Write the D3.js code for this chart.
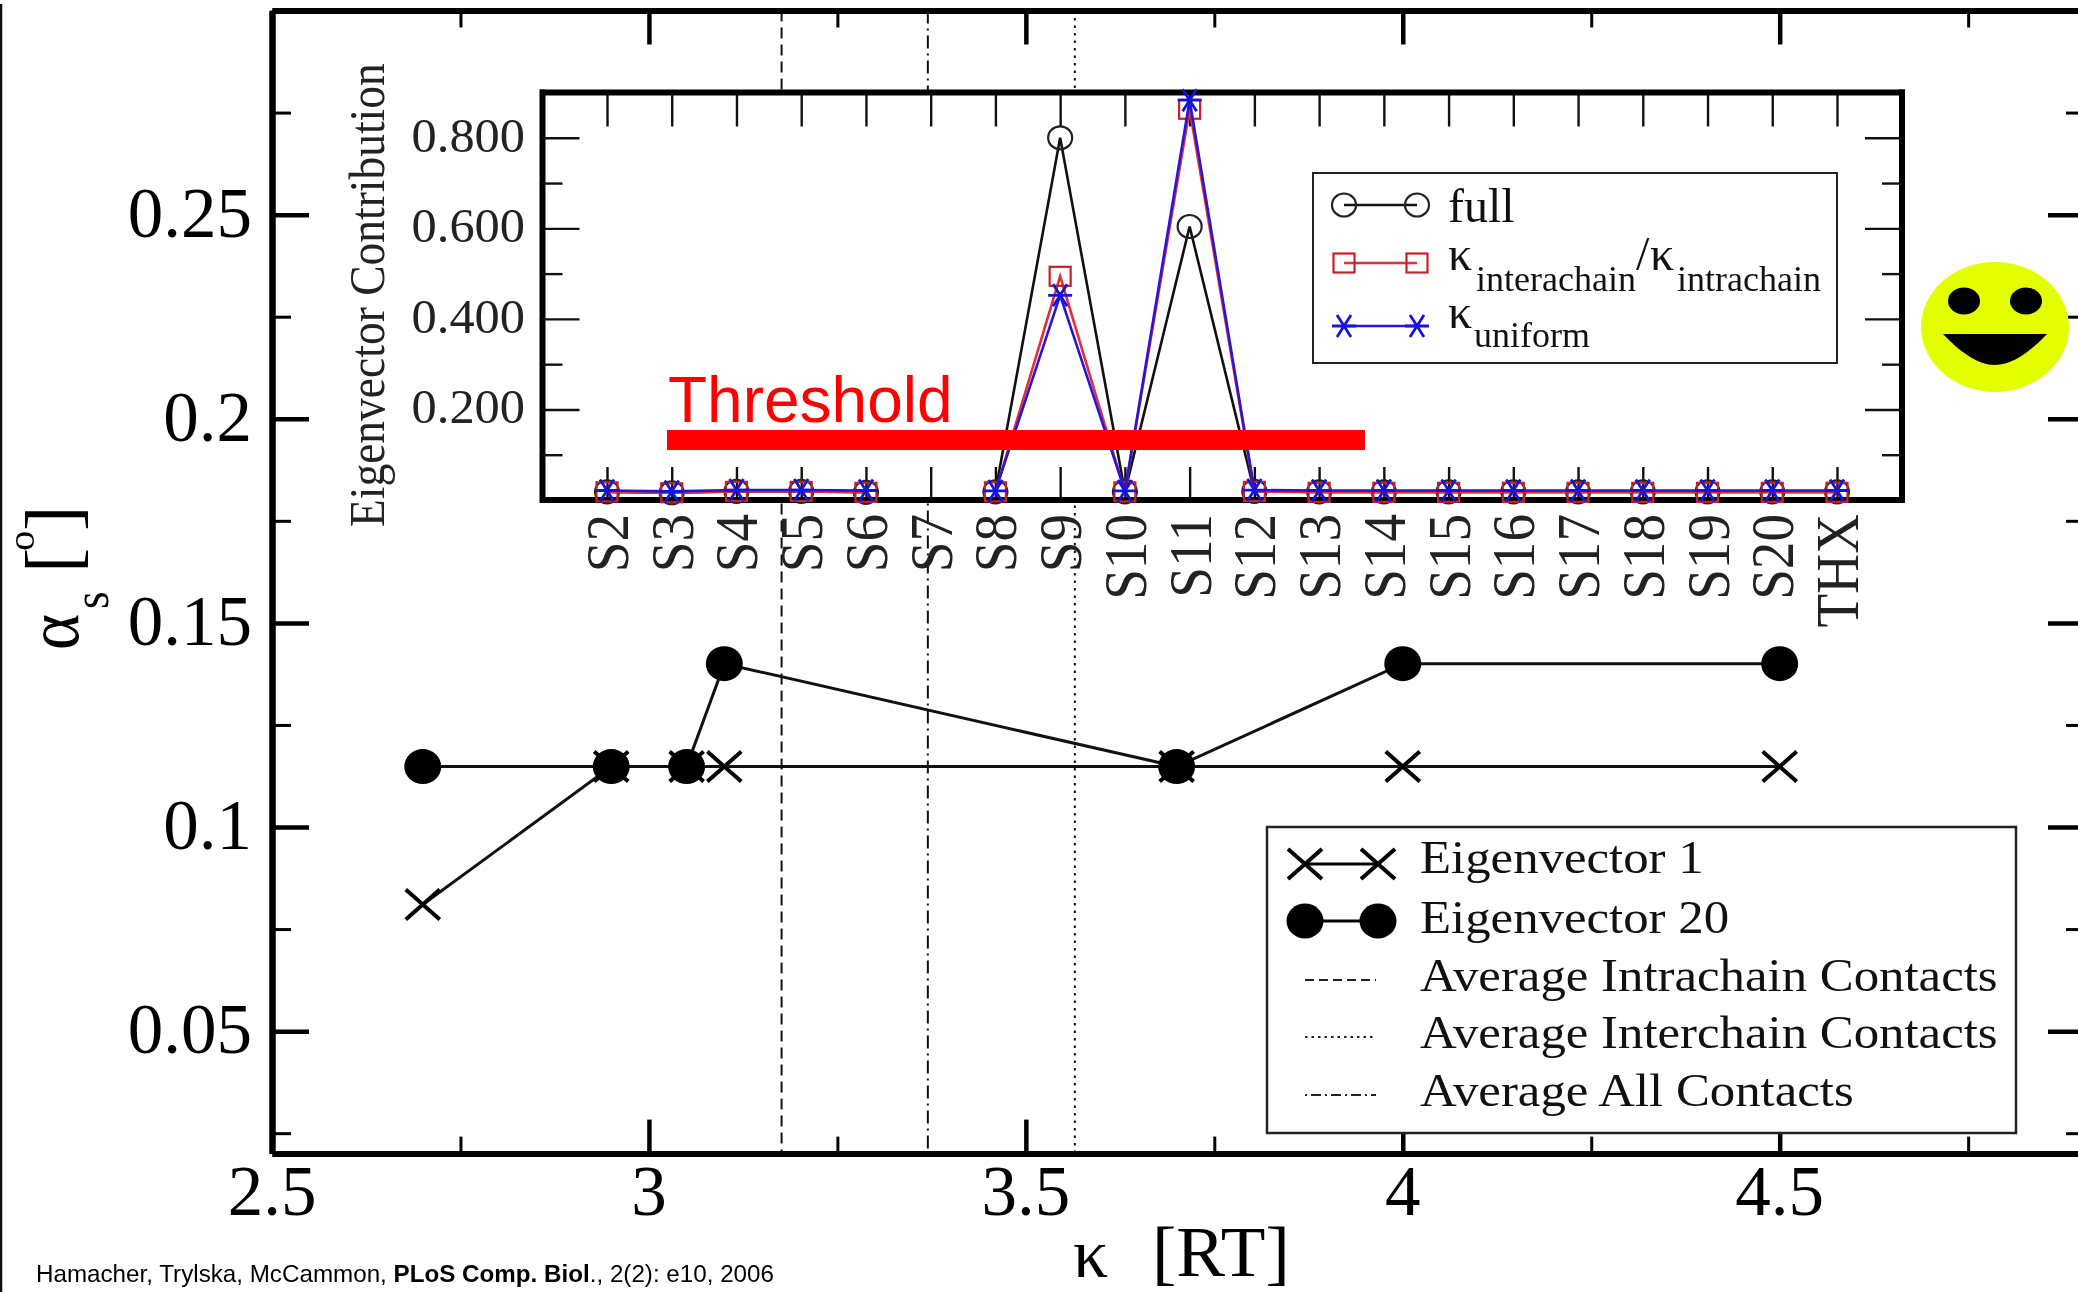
<!DOCTYPE html>
<html>
<head>
<meta charset="utf-8">
<script src="https://cdn.jsdelivr.net/npm/d3@7"></script>
<style>
  body { margin: 0; background: #fff; overflow: hidden; }
  svg { display: block; filter: blur(0.5px); }
  text { font-family: "Liberation Serif", serif; fill: #000; }
</style>
</head>
<body>
<div id="chart"></div>
<script>
// main plot
const kappa = [2.7, 2.95, 3.05, 3.1, 3.7, 4, 4.5];
const eigen1 = [0.081, 0.1148, 0.1148, 0.1148, 0.1148, 0.1148, 0.1148];
const eigen20 = [0.1148, 0.1148, 0.1148, 0.14, 0.1148, 0.14, 0.14];
const avgIntra = 3.176;
const avgAll = 3.37;
const avgInter = 3.565;
const xMajor = [2.5, 3, 3.5, 4, 4.5];
const xMinor = [2.75, 3.25, 3.75, 4.25, 4.75];
const yMajor = [0.05, 0.1, 0.15, 0.2, 0.25];
const yMinor = [0.025, 0.075, 0.125, 0.175, 0.225, 0.275];

// inset plot
const sites = ["S2", "S3", "S4", "S5", "S6", "S7", "S8", "S9", "S10", "S11", "S12", "S13", "S14", "S15", "S16", "S17", "S18", "S19", "S20", "THX"];
const full = [0.018, 0.016, 0.019, 0.019, 0.017, null, 0.018, 0.8, 0.018, 0.604, 0.019, 0.018, 0.018, 0.018, 0.018, 0.018, 0.018, 0.018, 0.018, 0.018];
const ratio = [0.018, 0.016, 0.019, 0.019, 0.017, null, 0.018, 0.494, 0.018, 0.863, 0.019, 0.017, 0.017, 0.017, 0.017, 0.017, 0.017, 0.017, 0.017, 0.017];
const uniform = [0.021, 0.019, 0.022, 0.022, 0.021, null, 0.02, 0.452, 0.02, 0.883, 0.022, 0.021, 0.021, 0.021, 0.021, 0.021, 0.021, 0.021, 0.021, 0.021];
const insetMajor = [0.2, 0.4, 0.6, 0.8];
const insetMinor = [0.1, 0.3, 0.5, 0.7];

const width = 2078, height = 1292;
const svg = d3.select("#chart").append("svg").attr("width", width).attr("height", height);

// scales
const x = d3.scaleLinear().domain([2.5, 4.905]).range([272, 2085]);
const y = d3.scaleLinear().domain([0.02, 0.3]).range([1153.6, 10.5]);
const ix = d3.scalePoint().domain(sites).range([607, 1837]);
const iy = d3.scaleLinear().domain([0, 0.9]).range([500, 92.5]);

// stretched text, the scan is wider than plain Times
function label(g, str, px, py, size, opts) {
  opts = opts || {};
  const rot = opts.rotate ? " rotate(-90)" : "";
  const t = g.append("text")
    .attr("transform", `translate(${px},${py})${rot} scale(${opts.sx || 1},1)`)
    .attr("font-size", size)
    .attr("text-anchor", opts.anchor || "start")
    .style("fill", opts.fill || "#000")
    .text(str);
  return t;
}

// markers
function drawCross(g, cx, cy, w, h, sw, col) {
  g.append("path")
    .attr("d", `M${cx - w},${cy - h}L${cx + w},${cy + h}M${cx - w},${cy + h}L${cx + w},${cy - h}`)
    .attr("stroke", col).attr("stroke-width", sw).attr("fill", "none");
}
function drawDot(g, cx, cy) {
  g.append("ellipse").attr("cx", cx).attr("cy", cy).attr("rx", 18.5).attr("ry", 17.5).attr("fill", "#000");
}
function drawRing(g, cx, cy) {
  g.append("ellipse").attr("cx", cx).attr("cy", cy).attr("rx", 12).attr("ry", 11.5)
    .attr("fill", "none").attr("stroke", "#222").attr("stroke-width", 2.2);
}
function drawSquare(g, cx, cy) {
  g.append("rect").attr("x", cx - 10.5).attr("y", cy - 9.5).attr("width", 21).attr("height", 19)
    .attr("fill", "none").attr("stroke", "#c8202a").attr("stroke-width", 2.2);
}
function drawStar(g, cx, cy) {
  const col = "#1414e0";
  g.append("path").attr("d", `M${cx - 12},${cy}H${cx + 12}M${cx - 7},${cy - 11}L${cx + 7},${cy + 11}M${cx - 7},${cy + 11}L${cx + 7},${cy - 11}`)
    .attr("stroke", col).attr("stroke-width", 2.8).attr("fill", "none");
}

function styleAxis(g, sw) {
  g.selectAll(".domain").attr("stroke", "#000").attr("stroke-width", 6);
  g.selectAll(".tick line").attr("stroke", "#000").attr("stroke-width", sw);
  g.selectAll(".tick text").remove();
}

// far left edge line of the slide
svg.append("line").attr("x1", 1).attr("x2", 1).attr("y1", 4).attr("y2", height).attr("stroke", "#111").attr("stroke-width", 2.5);

// average contact lines, inset paints over them
const avgLines = [[avgIntra, "11,6"], [avgAll, "13,5,2,5"], [avgInter, "2.5,5"]];
avgLines.forEach(function (d) {
  svg.append("line").attr("x1", x(d[0])).attr("x2", x(d[0])).attr("y1", y.range()[1]).attr("y2", y.range()[0])
    .attr("stroke", "#111").attr("stroke-width", 2).attr("stroke-dasharray", d[1]);
});

// main axes
[[xMajor, 34, 4.5], [xMinor, 17, 3]].forEach(function (a) {
  const b = svg.append("g").attr("transform", `translate(0,${y.range()[0]})`)
    .call(d3.axisBottom(x).tickValues(a[0]).tickSize(-a[1]).tickSizeOuter(0));
  styleAxis(b, a[2]);
  const t = svg.append("g").attr("transform", `translate(0,${y.range()[1]})`)
    .call(d3.axisTop(x).tickValues(a[0]).tickSize(-a[1]).tickSizeOuter(0));
  styleAxis(t, a[2]);
});
[[yMajor, 37, 4.5], [yMinor, 19, 3]].forEach(function (a) {
  const l = svg.append("g").attr("transform", `translate(${x.range()[0]},0)`)
    .call(d3.axisLeft(y).tickValues(a[0]).tickSize(-a[1]).tickSizeOuter(0));
  styleAxis(l, a[2]);
  const r = svg.append("g").attr("transform", `translate(${x.range()[1]},0)`)
    .call(d3.axisRight(y).tickValues(a[0]).tickSize(-a[1]).tickSizeOuter(0));
  styleAxis(r, a[2]);
});

// main tick labels
xMajor.forEach(function (v) {
  label(svg, String(v), x(v), 1215, 71, { anchor: "middle" });
});
yMajor.forEach(function (v) {
  label(svg, String(v), 252, y(v) + 22, 71, { anchor: "end" });
});

// main titles
label(svg, "κ", 1073, 1276.5, 70);
label(svg, "[RT]", 1152, 1276, 71, { sx: 1.03 });
label(svg, "α", 78, 650, 74, { rotate: true, sx: 0.93 });
label(svg, "s", 108, 609, 50, { rotate: true, sx: 0.9 });
label(svg, "[", 78, 573, 76, { rotate: true });
label(svg, "o", 34, 551, 37, { rotate: true, sx: 1.1 });
label(svg, "]", 78, 531, 76, { rotate: true });

// main series
const mainLine = d3.line().x(function (d) { return x(d[0]); }).y(function (d) { return y(d[1]); });
const rows1 = d3.zip(kappa, eigen1);
const rows20 = d3.zip(kappa, eigen20);
svg.append("path").attr("d", mainLine(rows1)).attr("fill", "none").attr("stroke", "#111").attr("stroke-width", 3);
svg.append("path").attr("d", mainLine(rows20)).attr("fill", "none").attr("stroke", "#111").attr("stroke-width", 3);
rows1.forEach(function (d) { drawCross(svg, x(d[0]), y(d[1]), 17, 15, 4, "#000"); });
rows20.forEach(function (d) { drawDot(svg, x(d[0]), y(d[1])); });

// main legend
const leg = svg.append("g");
leg.append("rect").attr("x", 1267).attr("y", 827).attr("width", 749).attr("height", 306)
  .attr("fill", "#fff").attr("stroke", "#222").attr("stroke-width", 2.5);
leg.append("line").attr("x1", 1305).attr("x2", 1378).attr("y1", 864).attr("y2", 864).attr("stroke", "#000").attr("stroke-width", 3);
drawCross(leg, 1305, 864, 17, 15, 4, "#000");
drawCross(leg, 1378, 864, 17, 15, 4, "#000");
leg.append("line").attr("x1", 1305).attr("x2", 1378).attr("y1", 921).attr("y2", 921).attr("stroke", "#000").attr("stroke-width", 3);
drawDot(leg, 1305, 921);
drawDot(leg, 1378, 921);
[[980, "9,5"], [1037, "2.5,4"], [1095, "2,4,10,4"]].forEach(function (d) {
  leg.append("line").attr("x1", 1305).attr("x2", 1376).attr("y1", d[0]).attr("y2", d[0])
    .attr("stroke", "#222").attr("stroke-width", 2).attr("stroke-dasharray", d[1]);
});
[["Eigenvector 1", 873], ["Eigenvector 20", 933], ["Average Intrachain Contacts", 991], ["Average Interchain Contacts", 1048], ["Average All Contacts", 1106]].forEach(function (d) {
  label(leg, d[0], 1420, d[1], 46, { sx: 1.105, fill: "#111" });
});

// inset
const inset = svg.append("g");
inset.append("rect").attr("x", ix.range()[0] - 65).attr("y", iy.range()[1]).attr("width", 1360).attr("height", iy.range()[0] - iy.range()[1]).attr("fill", "#fff");

inset.append("line").attr("x1", 542.5).attr("x2", 542.5).attr("y1", 89.5).attr("y2", 503).attr("stroke", "#000").attr("stroke-width", 6);
inset.append("line").attr("x1", 1902).attr("x2", 1902).attr("y1", 89.5).attr("y2", 503).attr("stroke", "#000").attr("stroke-width", 6);

const ib = inset.append("g").attr("transform", `translate(0,${iy.range()[0]})`)
  .call(d3.axisBottom(ix).tickSize(-33).tickSizeOuter(0));
const it = inset.append("g").attr("transform", `translate(0,${iy.range()[1]})`)
  .call(d3.axisTop(ix).tickSize(-34).tickSizeOuter(0));
[ib, it].forEach(function (g) {
  g.select(".domain").remove();
  g.selectAll(".tick line").attr("stroke", "#111").attr("stroke-width", 2.4);
  g.selectAll(".tick text").remove();
});
inset.append("line").attr("x1", 540).attr("x2", 1905).attr("y1", iy(0)).attr("y2", iy(0)).attr("stroke", "#000").attr("stroke-width", 6);
inset.append("line").attr("x1", 540).attr("x2", 1905).attr("y1", iy(0.9)).attr("y2", iy(0.9)).attr("stroke", "#000").attr("stroke-width", 6);

[[insetMajor, 37], [insetMinor, 20]].forEach(function (a) {
  const l = inset.append("g").attr("transform", "translate(542.5,0)")
    .call(d3.axisLeft(iy).tickValues(a[0]).tickSize(-a[1]).tickSizeOuter(0));
  const r = inset.append("g").attr("transform", "translate(1902,0)")
    .call(d3.axisRight(iy).tickValues(a[0]).tickSize(-a[1]).tickSizeOuter(0));
  [l, r].forEach(function (g) {
    g.select(".domain").remove();
    g.selectAll(".tick line").attr("stroke", "#111").attr("stroke-width", 2.4);
    g.selectAll(".tick text").remove();
  });
});

insetMajor.forEach(function (v) {
  label(inset, d3.format(".3f")(v), 525, iy(v) + 14, 48, { anchor: "end", sx: 1.05, fill: "#222" });
});
sites.forEach(function (s) {
  label(inset, s, ix(s) + 21, 514, 62, { rotate: true, anchor: "end", sx: 0.89, fill: "#222" });
});
label(inset, "Eigenvector Contribution", 384, 527, 50, { rotate: true, sx: 0.91, fill: "#222" });

const insetLine = d3.line()
  .defined(function (d) { return d[1] !== null; })
  .x(function (d) { return ix(d[0]); })
  .y(function (d) { return iy(d[1]); });
const insetSeries = [
  { vals: full, col: "#111", mark: drawRing },
  { vals: ratio, col: "#e0303a", mark: drawSquare },
  { vals: uniform, col: "#2a14d8", mark: drawStar }
];
insetSeries.forEach(function (s) {
  const rows = d3.zip(sites, s.vals);
  inset.append("path").attr("d", insetLine(rows)).attr("fill", "none").attr("stroke", s.col).attr("stroke-width", 2.6);
  rows.filter(function (d) { return d[1] !== null; }).forEach(function (d) {
    s.mark(inset, ix(d[0]), iy(d[1]));
  });
});

// inset legend
const il = inset.append("g");
il.append("rect").attr("x", 1313).attr("y", 173).attr("width", 524).attr("height", 190)
  .attr("fill", "#fff").attr("stroke", "#222").attr("stroke-width", 2);
[[205, "#111", drawRing], [263, "#e0303a", drawSquare], [326, "#2a14d8", drawStar]].forEach(function (d) {
  il.append("line").attr("x1", 1344).attr("x2", 1417).attr("y1", d[0]).attr("y2", d[0]).attr("stroke", d[1]).attr("stroke-width", 2.6);
  d[2](il, 1344, d[0]);
  d[2](il, 1417, d[0]);
});
label(il, "full", 1448, 222, 48, { fill: "#111" });
label(il, "κ", 1448, 270, 48, { fill: "#111" });
label(il, "interachain", 1476, 291, 36, { fill: "#111" });
label(il, "/", 1636, 270, 48, { fill: "#111" });
label(il, "κ", 1650, 270, 48, { fill: "#111" });
label(il, "intrachain", 1677, 291, 36, { fill: "#111" });
label(il, "κ", 1448, 328, 48, { fill: "#111" });
label(il, "uniform", 1474, 347, 36, { fill: "#111" });

// threshold annotation
svg.append("rect").attr("x", 667).attr("y", 430).attr("width", 698).attr("height", 20).attr("fill", "#ff0000");
label(svg, "Threshold", 668, 421.5, 64, { fill: "#ff0000" }).style("font-family", "'Liberation Sans', sans-serif");

// smiley
const face = svg.append("g");
face.append("ellipse").attr("cx", 1995).attr("cy", 327).attr("rx", 74).attr("ry", 65).attr("fill", "#e4ff00");
face.append("ellipse").attr("cx", 1964).attr("cy", 301).attr("rx", 16).attr("ry", 13.5).attr("fill", "#000");
face.append("ellipse").attr("cx", 2026).attr("cy", 301).attr("rx", 16).attr("ry", 13.5).attr("fill", "#000");
face.append("path").attr("d", "M1943,334H2047C2030,352 2012,365 1995,365C1978,365 1960,352 1943,334Z").attr("fill", "#000");

// citation
const cite = svg.append("text").attr("x", 36).attr("y", 1282).attr("font-size", 24.2).style("font-family", "'Liberation Sans', sans-serif");
cite.append("tspan").text("Hamacher, Trylska, McCammon, ");
cite.append("tspan").attr("font-weight", "bold").text("PLoS Comp. Biol");
cite.append("tspan").text("., 2(2): e10, 2006");
</script>
</body>
</html>
